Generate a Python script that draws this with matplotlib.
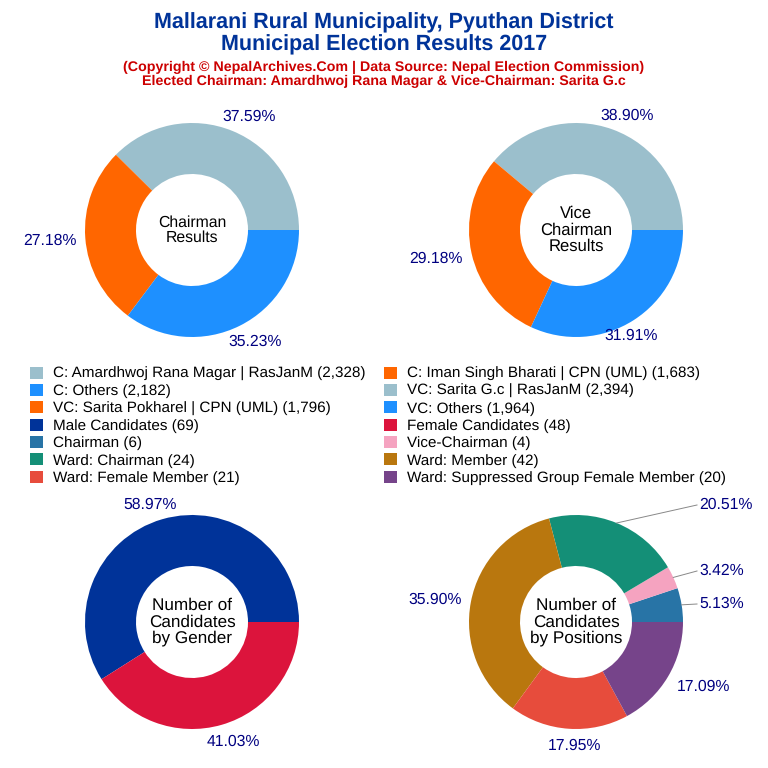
import numpy as np
import matplotlib
matplotlib.use("Agg")
import matplotlib.pyplot as plt
from matplotlib.patches import Patch

plt.rcParams['font.family'] = ['Liberation Sans', 'DejaVu Sans']
plt.rcParams['text.hinting'] = 'no_hinting'

chairman_votes = [2328, 1683, 2182]
vice_votes = [2394, 1796, 1964]
gender_counts = [69, 48]
position_counts = [6, 4, 24, 42, 21, 20]

legend_left = ["C: Amardhwoj Rana Magar | RasJanM (2,328)", "C: Others (2,182)",
               "VC: Sarita Pokharel | CPN (UML) (1,796)", "Male Candidates (69)",
               "Chairman (6)", "Ward: Chairman (24)", "Ward: Female Member (21)"]
legend_right = ["C: Iman Singh Bharati | CPN (UML) (1,683)", "VC: Sarita G.c | RasJanM (2,394)",
                "VC: Others (1,964)", "Female Candidates (48)", "Vice-Chairman (4)",
                "Ward: Member (42)", "Ward: Suppressed Group Female Member (20)"]

# colours
LIGHT = "#9bbfcc"
ORANGE = "#ff6600"
BLUE = "#1e90ff"
MALE = "#003399"
FEMALE = "#dc143c"
POS_COLORS = ["#2874a6", "#f5a3c0", "#148f77", "#b9770e", "#e74c3c", "#76448a"]

legend_left_colors = [LIGHT, BLUE, ORANGE, MALE, POS_COLORS[0], POS_COLORS[2], POS_COLORS[4]]
legend_right_colors = [ORANGE, LIGHT, BLUE, FEMALE, POS_COLORS[1], POS_COLORS[3], POS_COLORS[5]]

SIZE = 768
AX_PX = 300


def draw_donut(cx, cy, values, colors, center_text, center_size, label_px, leaders=()):
    # axes of 300px around the pie centre, 100px per data unit
    ax = fig.add_axes([(cx - AX_PX / 2) / SIZE, 1 - (cy + AX_PX / 2) / SIZE, AX_PX / SIZE, AX_PX / SIZE])
    wedges, _ = ax.pie(values, colors=colors, startangle=0, counterclock=True, radius=1.07,
                       wedgeprops=dict(width=0.51, linewidth=0))
    ax.set_xlim(-1.5, 1.5)
    ax.set_ylim(-1.5, 1.5)
    ax.set_aspect('equal')
    ax.axis('off')
    ax.text(0, 0.0, center_text, ha='center', va='center', fontsize=center_size,
            color='black', linespacing=1.03)

    total = sum(values)
    for i, (v, w) in enumerate(zip(values, wedges)):
        lx, ly = label_px[i]
        tx = (lx - cx) / 100
        ty = (cy - ly - 1) / 100
        ha = 'center'
        if i in leaders:
            ha = 'left'
            mid = np.deg2rad((w.theta1 + w.theta2) / 2)
            ax.plot([1.07 * np.cos(mid), tx - 0.02], [1.07 * np.sin(mid), ty],
                    color='#888888', lw=0.7, clip_on=False)
        ax.text(tx, ty, f"{v / total * 100:.2f}%", ha=ha, va='center', fontsize=11.3,
                color='#000080', clip_on=False)


fig = plt.figure(figsize=(7.68, 7.68), dpi=100, facecolor='white')

fig.text(0.5, 1 - 22.5 / SIZE, "Mallarani Rural Municipality, Pyuthan District", ha='center', va='center',
         fontsize=15.5, fontweight='bold', color=MALE)
fig.text(0.5, 1 - 44.5 / SIZE, "Municipal Election Results 2017", ha='center', va='center',
         fontsize=15.5, fontweight='bold', color=MALE)
fig.text(0.5, 1 - 67 / SIZE, "(Copyright © NepalArchives.Com | Data Source: Nepal Election Commission)",
         ha='center', va='center', fontsize=10.3, fontweight='bold', color='#cc0000')
fig.text(0.5, 1 - 81.5 / SIZE, "Elected Chairman: Amardhwoj Rana Magar & Vice-Chairman: Sarita G.c",
         ha='center', va='center', fontsize=10.3, fontweight='bold', color='#cc0000')

draw_donut(192, 230, chairman_votes, [LIGHT, ORANGE, BLUE], "Chairman\nResults", 11.3,
           [(249, 116), (50, 240), (255, 341)])
draw_donut(576, 230, vice_votes, [LIGHT, ORANGE, BLUE], "Vice\nChairman\nResults", 12,
           [(627, 115), (436, 258), (631, 335)])
draw_donut(192, 622, gender_counts, [MALE, FEMALE], "Number of\nCandidates\nby Gender", 12.3,
           [(150, 504), (233, 741)])
draw_donut(576, 622, position_counts, POS_COLORS, "Number of\nCandidates\nby Positions", 12.3,
           [(699, 603), (699, 570), (699, 504), (435, 599), (575, 745), (704, 686)],
           leaders=(0, 1, 2))


def add_legend(labels, colors, left_px):
    handles = [Patch(facecolor=c, edgecolor='none', label=t) for t, c in zip(labels, colors)]
    fig.legend(handles=handles, loc='upper left', bbox_to_anchor=(left_px / SIZE, 1 - 366.5 / SIZE),
               frameon=False, fontsize=10.95, handlelength=0.85, handleheight=0.85,
               handletextpad=0.65, labelspacing=0.19, borderpad=0, borderaxespad=0)


add_legend(legend_left, legend_left_colors, 30)
add_legend(legend_right, legend_right_colors, 384)

fig.savefig("out.png", dpi=100)
